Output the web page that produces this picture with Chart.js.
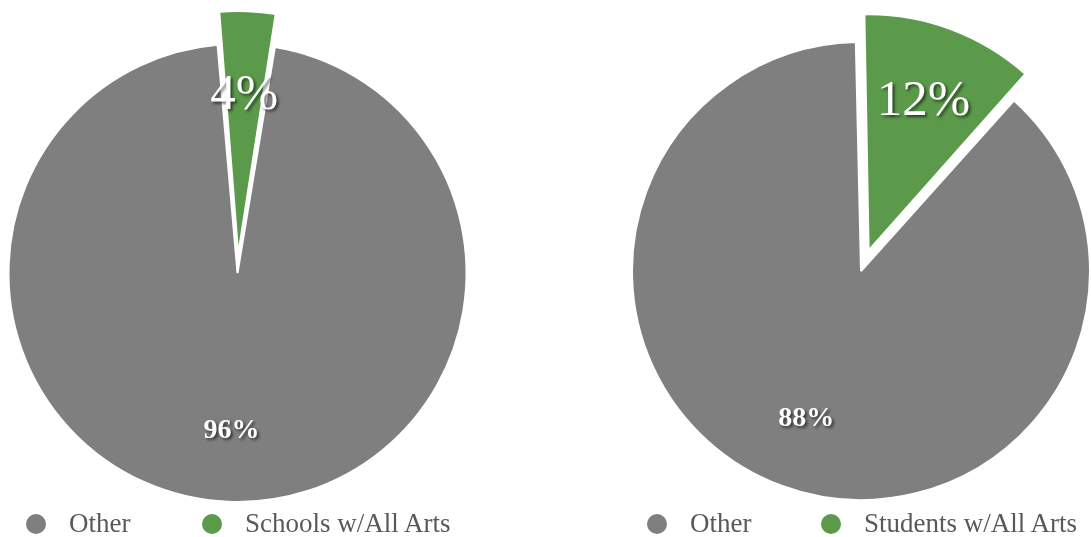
<!DOCTYPE html>
<html>
<head>
<meta charset="utf-8">
<script src="https://cdn.jsdelivr.net/npm/chart.js@4.4.1/dist/chart.umd.min.js"></script>
<style>
    html, body { margin: 0; padding: 0; background: #fff; overflow: hidden; }
    body { width: 1091px; height: 537px; position: relative; }
    .pie { position: absolute; top: 0; }
    .legend {
        position: absolute; top: 510px; height: 27px;
        display: flex; justify-content: flex-start; align-items: center;
        font-family: "Liberation Serif", "DejaVu Serif", serif;
        font-size: 27px; color: #595959; white-space: nowrap;
    }
    .legend .item { display: flex; align-items: center; }
    .legend .dot { width: 20px; height: 20px; border-radius: 50%; margin-right: 23px; flex: none; }
</style>
</head>
<body>
<canvas id="pieSchools" class="pie" width="475" height="537" style="left:0px"></canvas>
<canvas id="pieStudents" class="pie" width="460" height="537" style="left:631px"></canvas>
<div id="legendSchools" class="legend" style="left:26px"></div>
<div id="legendStudents" class="legend" style="left:647px"></div>

<script>
// DATA
var schoolLabels = ['Other', 'Schools w/All Arts'];
var schoolValues = [96, 4];
var studentLabels = ['Other', 'Students w/All Arts'];
var studentValues = [88, 12];
var sliceColors = ['#7f7f7f', '#5b9a4a'];

// chart.js arc offset is scaled down inside ArcElement.draw, work back from pixels
function arcOffset(px, pct) {
    var circ = Math.PI * 2 * pct / 100;
    var fix = 1 - Math.sin(Math.min(Math.PI, circ));
    return px * 4 / (1 + fix);
}

// percent labels with a soft shadow
var pctLabels = {
    id: 'pctLabels',
    afterDatasetsDraw: function (chart) {
        var ctx = chart.ctx;
        var meta = chart.getDatasetMeta(0);
        var values = chart.data.datasets[0].data;
        var opts = chart.options.plugins.pctLabels;
        meta.data.forEach(function (arc, i) {
            var p = arc.getProps(['x', 'y', 'startAngle', 'endAngle', 'outerRadius'], true);
            var mid = (p.startAngle + p.endAngle) / 2;
            var d = opts.shifts[i] + p.outerRadius * opts.dist[i];
            var x = p.x + Math.cos(mid) * d;
            var y = p.y + Math.sin(mid) * d;
            ctx.save();
            ctx.font = opts.fonts[i];
            ctx.textAlign = 'center';
            ctx.textBaseline = 'middle';
            ctx.shadowColor = 'rgba(0,0,0,0.6)';
            ctx.shadowOffsetX = 2;
            ctx.shadowOffsetY = 2;
            ctx.shadowBlur = 3;
            ctx.fillStyle = '#ffffff';
            ctx.fillText(values[i] + '%', x, y);
            ctx.restore();
        });
    }
};

function pieChart(id, labels, values, rotation, shiftPx, padTop, dist) {
    var ctx = document.getElementById(id).getContext('2d');
    return new Chart(ctx, {
        type: 'pie',
        data: {
            labels: labels,
            datasets: [{
                data: values,
                backgroundColor: sliceColors,
                borderColor: '#ffffff',
                borderWidth: 2,
                offset: [0, arcOffset(shiftPx, values[1])],
                clip: false
            }]
        },
        options: {
            responsive: false,
            animation: false,
            events: [],
            rotation: rotation,
            radius: 229,
            layout: { padding: { top: padTop, bottom: 0, left: 0, right: 0 } },
            plugins: {
                legend: { display: false },
                tooltip: { enabled: false },
                pctLabels: {
                    shifts: [0, shiftPx],
                    dist: dist,
                    fonts: ['bold 28px "Liberation Serif"', '51px "Liberation Serif"']
                }
            }
        },
        plugins: [pctLabels]
    });
}

function htmlLegend(chart, elId, firstWidth) {
    var box = document.getElementById(elId);
    chart.data.labels.forEach(function (lab, i) {
        var item = document.createElement('div');
        item.className = 'item';
        if (i === 0) item.style.width = firstWidth + 'px';
        var dot = document.createElement('span');
        dot.className = 'dot';
        dot.style.background = sliceColors[i];
        var txt = document.createElement('span');
        txt.textContent = lab;
        item.appendChild(dot);
        item.appendChild(txt);
        box.appendChild(item);
    });
}

var chartSchools = pieChart('pieSchools', schoolLabels, schoolValues, 9.4, 33, 9, [0.69, 0.63]);
var chartStudents = pieChart('pieStudents', studentLabels, studentValues, 41.9, 29, 5, [0.69, 0.66]);
htmlLegend(chartSchools, 'legendSchools', 176);
htmlLegend(chartStudents, 'legendStudents', 174);
</script>
</body>
</html>
